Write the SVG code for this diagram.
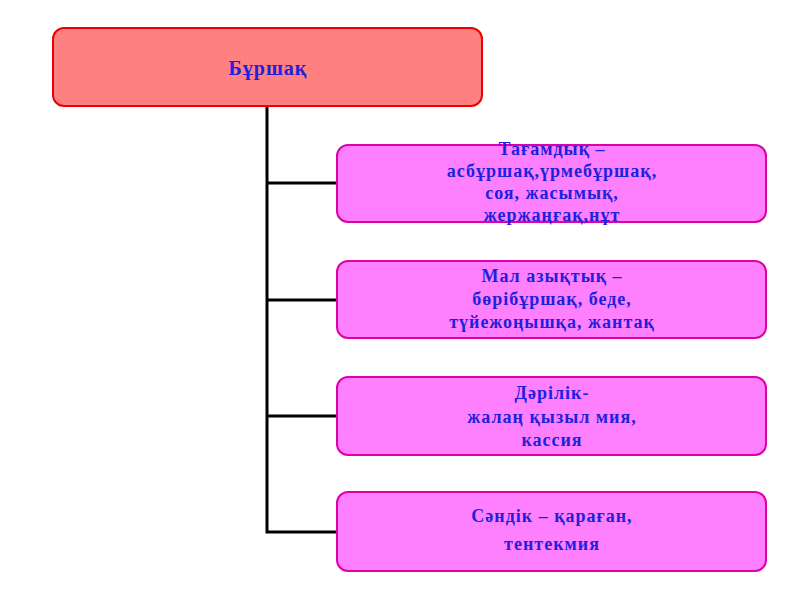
<svg xmlns="http://www.w3.org/2000/svg" width="800" height="600" viewBox="0 0 800 600">
<style>
.root{fill:#FF8080;stroke:#EE0000;stroke-width:2}
.box{fill:#FF80FF;stroke:#E000A8;stroke-width:2}
.t{font-family:"Liberation Serif","Times New Roman",serif;font-weight:bold;font-size:18px;letter-spacing:1px;fill:#2020DD;text-anchor:middle}
.r{font-size:20px}
.c{stroke:#000;stroke-width:3;fill:none}
</style>
<rect width="800" height="600" fill="#fff"/>
<g id="connectors">
<path class="c" d="M267 106 V532 H337 M267 183 H337 M267 300 H337 M267 416 H337"/>
</g>
<g id="root">
<rect class="root" x="53" y="28" width="429" height="78" rx="11"/>
<text class="t r" x="268" y="75">Бұршақ</text>
</g>
<g id="n1">
<rect class="box" x="337" y="145" width="429" height="77" rx="11"/>
<text class="t" x="552" y="155">Тағамдық –</text>
<text class="t" x="552" y="177">асбұршақ,үрмебұршақ,</text>
<text class="t" x="552" y="199">соя, жасымық,</text>
<text class="t" x="552" y="221">жержаңғақ,нұт</text>
</g>
<g id="n2">
<rect class="box" x="337" y="261" width="429" height="77" rx="11"/>
<text class="t" x="552" y="282">Мал азықтық –</text>
<text class="t" x="552" y="305">бөрібұршақ, беде,</text>
<text class="t" x="552" y="328">түйежоңышқа, жантақ</text>
</g>
<g id="n3">
<rect class="box" x="337" y="377" width="429" height="78" rx="11"/>
<text class="t" x="552" y="399">Дәрілік-</text>
<text class="t" x="552" y="423">жалаң қызыл мия,</text>
<text class="t" x="552" y="446">кассия</text>
</g>
<g id="n4">
<rect class="box" x="337" y="492" width="429" height="79" rx="11"/>
<text class="t" x="552" y="522">Сәндік – қараған,</text>
<text class="t" x="552" y="550">тентекмия</text>
</g>
</svg>
